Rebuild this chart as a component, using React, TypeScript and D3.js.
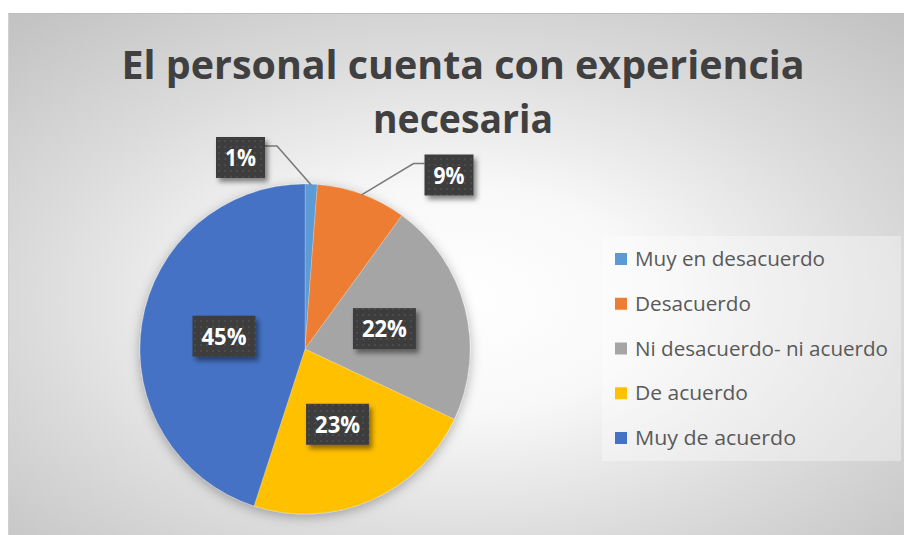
import React from "react";
import * as d3 from "d3";

const categories = [
  "Muy en desacuerdo",
  "Desacuerdo",
  "Ni desacuerdo- ni acuerdo",
  "De acuerdo",
  "Muy de acuerdo",
];
const values = [1.2, 8.8, 22, 23, 45];
const colors = ["#5B9BD5", "#ED7D31", "#A5A5A5", "#FFC000", "#4472C4"];
const titleLines = ["El personal cuenta con experiencia", "necesaria"];

const W = 904;
const H = 535;
const CX = 305;
const CY = 349;
const R = 165;

// outside label placements (box centres) for the small slices
const outsideLabels: Record<number, { x: number; y: number; side: "left" | "right" }> = {
  0: { x: 240.5, y: 157.5, side: "right" },
  1: { x: 449, y: 175, side: "left" },
};

const legendTextLen = [190, 116, 253, 113, 161];

export default function App() {
  const pie = d3
    .pie<number>()
    .sort(null)
    .value((d) => d)
    .startAngle(0)
    .endAngle(2 * Math.PI);
  const arcs = pie(values);
  const arc = d3.arc<d3.PieArcDatum<number>>().innerRadius(0).outerRadius(R);
  const labelArc = d3
    .arc<d3.PieArcDatum<number>>()
    .innerRadius(R * 0.995)
    .outerRadius(R * 0.995);
  const total = d3.sum(values);

  const legendY = d3
    .scalePoint<number>()
    .domain(d3.range(categories.length))
    .range([259, 438]);

  return (
    <svg
      width={W}
      height={H}
      style={{ position: "absolute", left: 0, top: 0, fontFamily: "'Open Sans', sans-serif" }}
    >
      <defs>
        <radialGradient id="bg" cx="0.5" cy="0.55" r="0.72" fx="0.5" fy="0.55">
          <stop offset="0" stopColor="#ffffff" />
          <stop offset="0.3" stopColor="#f8f8f8" />
          <stop offset="0.65" stopColor="#dcdcdc" />
          <stop offset="1" stopColor="#c3c3c3" />
        </radialGradient>
        <pattern id="dots" width="6" height="6" patternUnits="userSpaceOnUse">
          <rect width="6" height="6" fill="#3e3e3e" />
          <circle cx="3" cy="3" r="0.9" fill="#525252" />
        </pattern>
        <filter id="pieShadow" x="-20%" y="-20%" width="140%" height="140%">
          <feDropShadow dx="0" dy="3" stdDeviation="6" floodColor="#000" floodOpacity="0.3" />
        </filter>
        <filter id="boxShadow" x="-30%" y="-30%" width="160%" height="160%">
          <feDropShadow dx="3" dy="4" stdDeviation="2.5" floodColor="#000" floodOpacity="0.45" />
        </filter>
      </defs>

      <rect x={8} y={13} width={W - 8} height={H - 13} fill="url(#bg)" />
      <line x1={8} y1={13.5} x2={W} y2={13.5} stroke="#bdbdbd" strokeWidth={1} />
      <line x1={8.5} y1={13} x2={8.5} y2={H} stroke="#d0d0d0" strokeWidth={1} />

      {/* title */}
      <text
        x={463}
        y={79}
        textAnchor="middle"
        fontSize={40}
        fontWeight="bold"
        fill="#404040"
        textLength={683}
        lengthAdjust="spacingAndGlyphs"
      >
        {titleLines[0]}
      </text>
      <text
        x={463}
        y={133}
        textAnchor="middle"
        fontSize={40}
        fontWeight="bold"
        fill="#404040"
        textLength={180}
        lengthAdjust="spacingAndGlyphs"
      >
        {titleLines[1]}
      </text>

      {/* pie */}
      <g transform={`translate(${CX},${CY})`} filter="url(#pieShadow)">
        {arcs.map((a, i) => (
          <path key={i} d={arc(a) || ""} fill={colors[i]} stroke="#ffffff" strokeOpacity={0.35} strokeWidth={0.6} />
        ))}
      </g>

      {/* leader lines */}
      {arcs.map((a, i) => {
        const o = outsideLabels[i];
        if (!o) return null;
        const [px, py] = labelArc.centroid(a);
        const bw = 49;
        const edgeX = o.side === "right" ? o.x + bw / 2 : o.x - bw / 2;
        const elbowX = o.side === "right" ? edgeX + 12 : edgeX - 11;
        const elbowY = o.y - 13.5 + 2;
        return (
          <polyline
            key={"l" + i}
            points={`${CX + px},${CY + py} ${elbowX},${elbowY} ${edgeX},${elbowY}`}
            fill="none"
            stroke="#7a7a7a"
            strokeWidth={1.6}
          />
        );
      })}

      {/* data labels */}
      {arcs.map((a, i) => {
        const pct = Math.round((values[i] / total) * 100);
        const label = `${pct}%`;
        let lx: number;
        let ly: number;
        const o = outsideLabels[i];
        if (o) {
          lx = o.x;
          ly = o.y;
        } else {
          const mid = (a.startAngle + a.endAngle) / 2;
          const rr = R * 0.497;
          lx = CX + rr * Math.sin(mid);
          ly = CY - rr * Math.cos(mid);
        }
        const tw = label.length === 2 ? 31 : 45;
        const bw = tw + 18;
        const bh = 41;
        return (
          <g key={"t" + i}>
            <rect
              x={lx - bw / 2}
              y={ly - bh / 2}
              width={bw}
              height={bh}
              fill="url(#dots)"
              filter="url(#boxShadow)"
            />
            <text
              x={lx}
              y={ly + 8.5}
              textAnchor="middle"
              fontSize={23.5}
              fontWeight="bold"
              fill="#ffffff"
              textLength={tw}
              lengthAdjust="spacingAndGlyphs"
            >
              {label}
            </text>
          </g>
        );
      })}

      {/* legend */}
      <rect x={602} y={236} width={299} height={225} fill="#ffffff" fillOpacity={0.35} />
      {categories.map((c, i) => {
        const y = legendY(i) as number;
        return (
          <g key={"lg" + i}>
            <rect x={615} y={y - 6} width={12} height={12} fill={colors[i]} />
            <text
              x={635}
              y={y + 7}
              fontSize={20}
              fill="#595959"
              textLength={legendTextLen[i]}
              lengthAdjust="spacingAndGlyphs"
            >
              {c}
            </text>
          </g>
        );
      })}
    </svg>
  );
}
